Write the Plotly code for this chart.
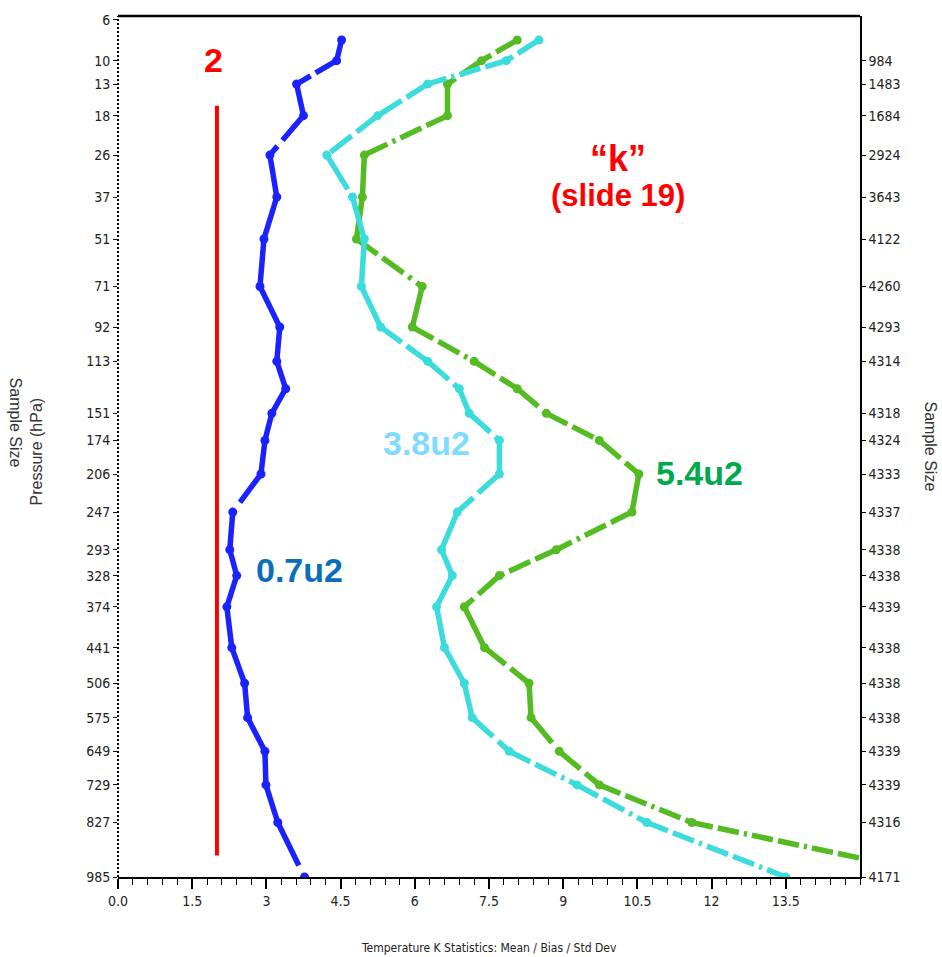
import math
import plotly.graph_objects as go

K = 0.286  # pressure axis transform (p ** K)

levels = [7.8, 10, 13, 18, 26, 37, 51, 71, 92, 113, 132, 151, 174, 206, 247,
          293, 328, 374, 441, 506, 575, 649, 729, 827, 985]
blue_vals = [4.52, 4.42, 3.61, 3.75, 3.07, 3.21, 2.95, 2.87, 3.27, 3.21, 3.39, 3.11,
             2.97, 2.89, 2.32, 2.26, 2.40, 2.20, 2.30, 2.56, 2.62, 2.97, 2.99, 3.23, 3.77]
cyan_vals = [8.51, 7.85, 6.26, 5.25, 4.22, 4.74, 4.98, 4.92, 5.31, 6.26, 6.90, 7.10,
             7.71, 7.71, 6.86, 6.54, 6.76, 6.44, 6.60, 7.00, 7.16, 7.91, 9.28, 10.69, 13.5]
green_vals = [8.07, 7.35, 6.66, 6.66, 4.98, 4.94, 4.82, 6.15, 5.95, 7.20, 8.07, 8.66,
              9.73, 10.53, 10.39, 8.86, 7.71, 7.00, 7.41, 8.31, 8.35, 8.92, 9.73, 11.60, 16.8]

tick_levels = [6, 10, 13, 18, 26, 37, 51, 71, 92, 113, 151, 174, 206, 247, 293, 328,
               374, 441, 506, 575, 649, 729, 827, 985]
sample_levels = [10, 13, 18, 26, 37, 51, 71, 92, 113, 151, 174, 206, 247, 293, 328,
                 374, 441, 506, 575, 649, 729, 827, 985]
sample_sizes = [984, 1483, 1684, 2924, 3643, 4122, 4260, 4293, 4314, 4318, 4324, 4333,
                4337, 4338, 4338, 4339, 4338, 4338, 4338, 4339, 4339, 4316, 4171]
x_ticks = [0.0, 1.5, 3, 4.5, 6, 7.5, 9, 10.5, 12, 13.5]
x_tick_text = ["0.0", "1.5", "3", "4.5", "6", "7.5", "9", "10.5", "12", "13.5"]

ref_line_x = 2
ref_line_p = [16.3, 920]

def tr(p):
    return p ** K

W, H = 942, 957
L, R, T, B = 118, 82, 13, 80
PW, PH = W - L - R, H - T - B
XMAX = 15
yrange = [tr(985), tr(5.7)]
XS = PW / XMAX
YS = PH / (yrange[0] - yrange[1])

def paper(xp, yp):
    return (xp - L) / PW, (H - B - yp) / PH

# dash pattern measured along the horizontal direction (as in the original plotter)
BASE = [21, 5, 21, 5, 3, 5]

def seg_dash(x0, y0, x1, y1):
    dx = abs(x1 - x0) * XS
    dy = abs(y1 - y0) * YS
    ln = math.hypot(dx, dy)
    if dx < 1e-6:
        return "solid"
    f = min(ln / dx, 30)
    return ",".join("%.1fpx" % (b * f) for b in BASE)

fig = go.Figure()
ylev = [tr(p) for p in levels]
series = [("#55BB22", green_vals), ("#3CDCDC", cyan_vals), ("#1A22FF", blue_vals)]
for color, vals in series:
    for i in range(len(vals) - 1):
        fig.add_trace(go.Scatter(x=[vals[i], vals[i + 1]], y=[ylev[i], ylev[i + 1]],
                                 mode="lines",
                                 line=dict(color=color, width=5.5,
                                           dash=seg_dash(vals[i], ylev[i], vals[i + 1], ylev[i + 1])),
                                 showlegend=False, hoverinfo="skip"))
    fig.add_trace(go.Scatter(x=vals, y=ylev, mode="markers",
                             marker=dict(color=color, size=9, symbol="circle"),
                             showlegend=False, cliponaxis=True))

# invisible trace to anchor the right (sample size) axis
fig.add_trace(go.Scatter(x=[0] * len(sample_levels), y=[tr(p) for p in sample_levels],
                         yaxis="y2", mode="markers", marker=dict(opacity=0),
                         showlegend=False, hoverinfo="skip"))

NARROW = "Liberation Sans Narrow, DejaVu Sans Condensed, Arial Narrow, Liberation Sans"
tickfont = dict(family=NARROW, size=14, color="#222")

fig.update_layout(
    width=W, height=H, margin=dict(l=L, r=R, t=T, b=B),
    plot_bgcolor="white", paper_bgcolor="white", showlegend=False,
    xaxis=dict(range=[0, XMAX], tickvals=x_ticks, ticktext=x_tick_text, ticks="outside",
               ticklen=10, tickwidth=1.5, tickcolor="black", showline=True, linecolor="black",
               linewidth=2, showgrid=False, zeroline=False, tickfont=tickfont,
               minor=dict(dtick=0.3, tick0=0, ticks="outside", ticklen=6, tickcolor="black",
                          tickwidth=1, showgrid=False)),
    yaxis=dict(range=yrange, tickvals=[tr(p) for p in tick_levels],
               ticktext=[str(p) for p in tick_levels], ticks="outside", ticklen=4,
               tickcolor="black", showline=False, showgrid=False, zeroline=False,
               tickfont=tickfont),
    yaxis2=dict(range=yrange, overlaying="y", side="right",
                tickvals=[tr(p) for p in sample_levels],
                ticktext=[str(s) for s in sample_sizes], ticks="outside", ticklen=4,
                tickcolor="black", showline=True, linecolor="black", linewidth=1.5,
                showgrid=False, zeroline=False, tickfont=tickfont),
)

# dotted left axis and top border
fig.add_shape(type="line", xref="paper", yref="paper", x0=0, x1=0, y0=0, y1=1,
              line=dict(color="black", width=2, dash="2px,2px"))
fig.add_shape(type="line", xref="paper", yref="paper", x0=0, x1=1, y0=1, y1=1,
              line=dict(color="black", width=2.5))
# red reference line
fig.add_shape(type="line", xref="x", yref="y", x0=ref_line_x, x1=ref_line_x,
              y0=tr(ref_line_p[0]), y1=tr(ref_line_p[1]),
              line=dict(color="#FF0000", width=4))

def ann(text, xp, yp, size, color, bold=True, angle=0, family="Liberation Sans, Arial, sans-serif"):
    x, y = paper(xp, yp)
    fig.add_annotation(text=("<b>%s</b>" % text) if bold else text, x=x, y=y,
                       xref="paper", yref="paper", showarrow=False, textangle=angle,
                       font=dict(family=family, size=size, color=color),
                       xanchor="center", yanchor="middle")

ann("2", 213, 57, 34, "#FF0000")
ann("\u201ck\u201d", 618, 156, 36, "#FF0000")
ann("(slide 19)", 618, 193, 31, "#FF0000")
ann("3.8u2", 426, 441, 34, "#7FDBFF")
ann("5.4u2", 699, 472, 34, "#00A84F")
ann("0.7u2", 299, 569, 34, "#0A6EBD")

ann("Sample Size", 15, 421, 16, "#333", bold=False, angle=90)
ann("Pressure (hPa)", 36, 450, 16, "#333", bold=False, angle=-90)
ann("Sample Size", 930, 445, 16, "#333", bold=False, angle=90)
ann("Temperature K Statistics: Mean / Bias / Std Dev", 489, 948, 12, "#222", bold=False,
    family=NARROW)

fig.write_html("out.html")
